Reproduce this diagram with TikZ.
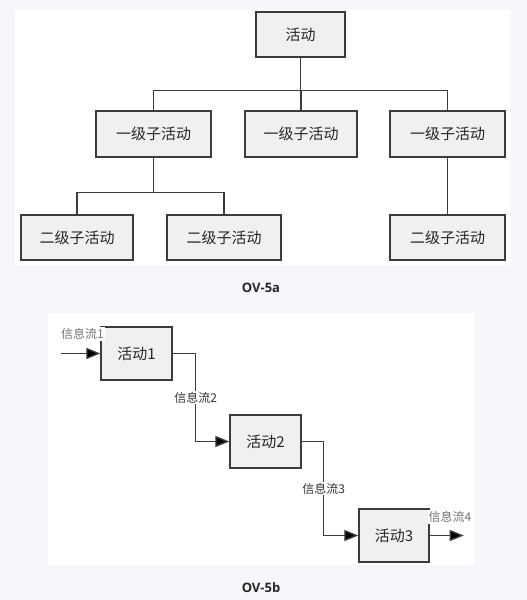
\documentclass[tikz,border=0pt]{standalone}
\usepackage{fontspec}
\newfontfamily\cjk{Noto Sans CJK SC}
\newfontfamily\capfont{Open Sans}
\usetikzlibrary{arrows.meta,positioning}
\definecolor{pagebg}{HTML}{F5F7FA}
\definecolor{boxfill}{HTML}{F0F0F0}
\definecolor{boxline}{HTML}{3C3C3C}

\begin{document}
\begin{tikzpicture}[x=1pt,y=-1pt,
  act/.style={draw=boxline, fill=boxfill, line width=1.4pt, inner sep=0pt, font=\cjk\fontsize{15}{15}\selectfont, text=black!85},
  link/.style={draw=boxline, line width=1.3pt},
  flow/.style={link, -{Triangle[length=14pt,width=11pt,fill=black]}},
  lbl/.style={fill=white, inner sep=1pt, font=\cjk\fontsize{12}{12}\selectfont, text=black!80},
  viewcap/.style={font=\capfont\bfseries\fontsize{13}{13}\selectfont, text=black!85}]
\useasboundingbox (0,0) rectangle (527,600);
\fill[pagebg] (0,0) rectangle (527,600);
\fill[white] (15,10) rectangle (510,265);
\fill[white] (48,313) rectangle (475,565);
% OV-5a
\node[act, minimum width=89pt, minimum height=45pt] (top) at (300.5,34.5) {活动};
\node[act, minimum width=115pt, minimum height=46pt] (suba) at (153.5,134) {一级子活动};
\node[act, minimum width=112pt, minimum height=46pt] (subb) at (301,134) {一级子活动};
\node[act, minimum width=115pt, minimum height=46pt] (subc) at (447.5,134) {一级子活动};
\node[act, minimum width=112pt, minimum height=45pt] (subaa) at (77,237.5) {二级子活动};
\node[act, minimum width=114pt, minimum height=45pt] (subab) at (224,237.5) {二级子活动};
\node[act, minimum width=115pt, minimum height=45pt] (subca) at (447.5,237.5) {二级子活动};
\draw[link] (top.south) -- ++(0,33) coordinate (ja);
\draw[link] (suba.north) |- (ja) -| (subc.north);
\draw[link] (ja) -- (ja -| subb.north) -- (subb.north);
\draw[link] (suba.south) -- ++(0,35) coordinate (jb);
\draw[link] (jb) -| (subaa.north);
\draw[link] (jb) -| (subab.north);
\draw[link] (subc.south) -- (subca.north);
\node[viewcap] (capa) at (261,288) {OV-5a};
% OV-5b
\node[act, minimum width=71pt, minimum height=53pt] (act1) at (136.5,353.5) {活动1};
\node[act, minimum width=71pt, minimum height=53pt] (act2) at (265.5,441.5) {活动2};
\node[act, minimum width=70pt, minimum height=53pt] (act3) at (394,535.5) {活动3};
\coordinate (in) at (61,353.5);
\draw[flow] (in) -- (act1.west);
\draw[flow] (act1.east) -- ++(23,0) |- node[pos=0.25, lbl] (f2) {信息流2} (act2.west);
\draw[flow] (act2.east) -- ++(22,0) |- node[pos=0.25, lbl] (f3) {信息流3} (act3.west);
\draw[flow] (act3.east) -- ++(34,0) coordinate (out);
\node[lbl, text=black!55] (f1) at (82.5,334) {信息流1};
\node[lbl, text=black!55] (f4) at (450,517) {信息流4};
\node[viewcap] (capb) at (261,588) {OV-5b};
\end{tikzpicture}
\end{document}
